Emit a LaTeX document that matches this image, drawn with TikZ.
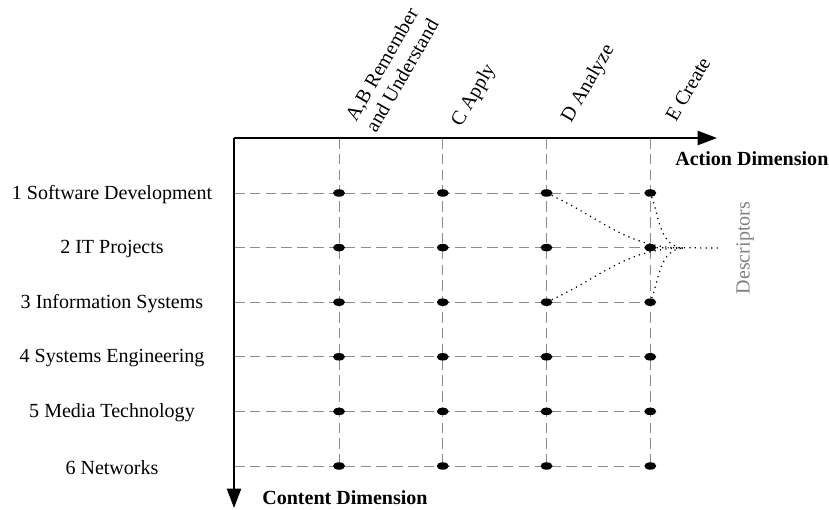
\documentclass[tikz,border=0pt]{standalone}
\usepackage{fontspec}
\setmainfont{Liberation Serif}
\usetikzlibrary{arrows.meta, shapes.geometric}

\tikzset{
    axis/.style={line width=1.2pt, -{Triangle[length=11pt,width=8pt]}},
    gridline/.style={gray!90, line width=0.5pt, dash pattern=on 6pt off 3pt},
    dot/.style={ellipse, fill=black, inner sep=0pt, minimum width=0.24cm, minimum height=0.15cm},
    collabel/.style={rotate=60, anchor=base west, inner sep=0pt, align=left},
    dimlabel/.style={anchor=west, inner sep=0pt, font=\fontsize{11.4}{13.2}\selectfont\bfseries},
    descline/.style={line width=0.7pt, dash pattern=on 0.7pt off 2.4pt}
}

\begin{document}
\begin{tikzpicture}[font=\fontsize{11.4}{13.2}\selectfont]
        \useasboundingbox (-4.68,-7.44) rectangle (11.9,2.76);
        \coordinate (o) at (0,0);
        \coordinate (xend) at (9.66,0);
        \coordinate (yend) at (0,-7.4);
        \foreach \i in {1,...,4}
            \coordinate (c\i) at ({2.1+2.075*(\i-1)},0);
        \foreach \j/\t in {1/1 Software Development, 2/2 IT Projects, 3/3 Information Systems,
                           4/4 Systems Engineering, 5/5 Media Technology, 6/6 Networks}{
            \coordinate (r\j) at (0,{-1.1-1.092*(\j-1)});
            \node (lab\j) at (-2.44,{-1.13-1.092*(\j-1)}) {\t};
        }
        % grid
        \foreach \j in {1,...,6}
            \draw[gridline] (r\j) -- (c4 |- r\j);
        \foreach \i in {1,...,4}
            \draw[gridline] (c\i) -- (c\i |- r6);
        \foreach \i in {1,...,4}
            \foreach \j in {1,...,6}
                \node[dot] (d\i\j) at (c\i |- r\j) {};
        % axes
        \draw[axis] (o) -- (xend);
        \draw[axis] (o) -- (yend);
        \node[dimlabel] (actdim) at (8.82,-0.42) {Action Dimension};
        \node[dimlabel] (condim) at (0.56,-7.2) {Content Dimension};
        % levels
        \node[collabel] (colab) at (2.84,0.08) {A,B Remember\\and Understand};
        \node[collabel] (colc) at (4.54,0.20) {C Apply};
        \node[collabel] (cold) at (6.74,0.28) {D Analyze};
        \node[collabel] (cole) at (8.84,0.30) {E Create};
        % descriptors
        \coordinate (meet) at (8.98,-2.2);
        \coordinate (tail) at (9.72,-2.2);
        \node[gray, rotate=90] (desc) at (10.22,-2.2) {Descriptors};
        \draw[descline] (d31) to[out=-25,in=180] (meet);
        \draw[descline] (d33) to[out=25,in=180] (meet);
        \draw[descline] (d41) to[out=-70,in=175] (meet);
        \draw[descline] (d43) to[out=70,in=185] (meet);
        \draw[descline] (d42) -- (tail);
\end{tikzpicture}
\end{document}
